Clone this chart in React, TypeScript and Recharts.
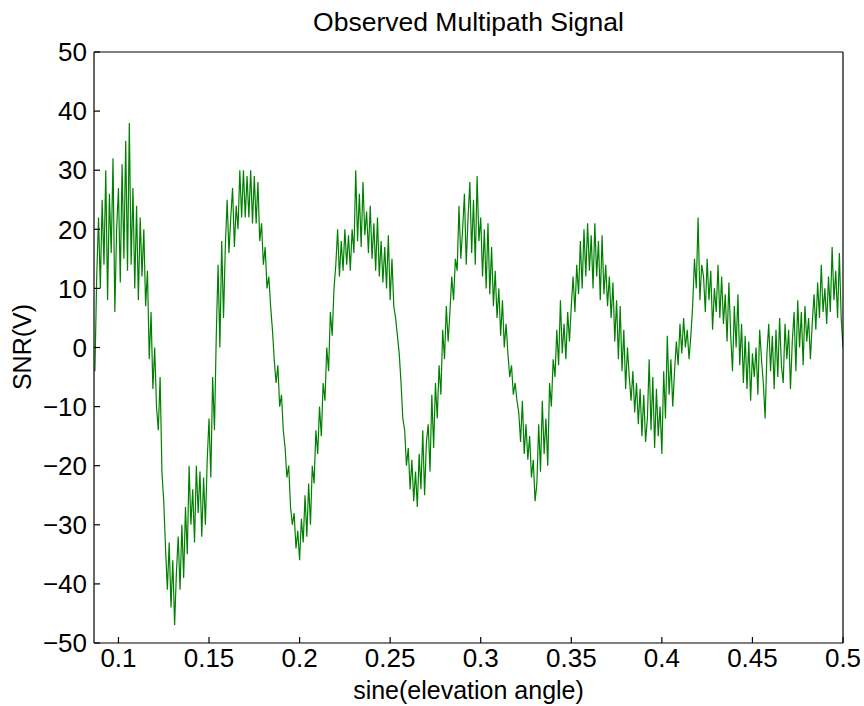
import { LineChart, Line, XAxis, YAxis } from "recharts";

// sample grid of the observed signal (sine of elevation angle)
const SAMPLE_START = 0.087;
const SAMPLE_STEP = 0.001;

// SNR(V) readings, one per sample
const snrValues = [
  -4, 12, 22, 10, 25, 14, 30, 8, 26, 16,
  32, 6, 20, 27, 11, 31, 15, 35, 13, 38,
  14, 27, 10, 24, 8, 22, 12, 20, 7, 13,
  -2, 6, -7, 0, -10, -14, -5, -21, -26, -34,
  -41, -33, -44, -36, -47, -38, -32, -41, -30, -39,
  -27, -35, -20, -30, -24, -33, -20, -28, -21, -32,
  -22, -30, -19, -12, -22, -5, -14, 2, 14, 0,
  18, 5, 17, 25, 16, 22, 27, 17, 24, 20,
  30, 22, 30, 22, 29, 22, 30, 21, 29, 21,
  28, 18, 21, 14, 17, 10, 12, 7, 3, -2,
  -6, -3, -10, -8, -14, -17, -22, -20, -27, -30,
  -28, -34, -31, -36, -29, -33, -25, -32, -23, -30,
  -20, -23, -14, -18, -10, -15, -6, -9, 0, -4,
  6, 2, 10, 14, 20, 12, 18, 13, 20, 14,
  19, 13, 20, 16, 30, 18, 26, 17, 28, 19,
  23, 16, 24, 15, 21, 13, 22, 12, 18, 11,
  17, 10, 19, 8, 15, 7, 5, 2, -1, -6,
  -12, -14, -20, -17, -24, -19, -26, -21, -27, -18,
  -24, -14, -25, -16, -13, -21, -8, -17, -6, -12,
  -3, -8, 3, -2, 7, 1, 6, 12, 8, 15,
  13, 24, 15, 20, 26, 14, 22, 28, 16, 25,
  14, 29, 18, 22, 12, 20, 10, 21, 9, 17,
  7, 13, 5, 10, 2, 8, 0, 4, -1, -5,
  -3, -8, -6, -9, -11, -16, -9, -18, -13, -19,
  -15, -22, -19, -26, -23, -13, -21, -9, -18, -12,
  -20, -6, -10, -2, -5, 3, -3, 8, -1, 4,
  -2, 6, 1, 7, 12, 6, 14, 9, 18, 10,
  20, 12, 21, 13, 19, 10, 21, 12, 18, 8,
  19, 9, 14, 7, 12, 5, 11, 1, 8, -2,
  7, -4, 3, -7, 0, -5, -9, -4, -11, -6,
  -13, -7, -15, -8, -16, -12, -2, -14, -5, -17,
  -7, -15, -10, -18, -4, -12, 2, -8, -2, -10,
  -4, 1, -3, 4, -1, 5, 0, 3, -2, 2,
  7, 15, 10, 22, 8, 14, 12, 6, 15, 8,
  13, 3, 10, 6, 14, 5, 12, 4, 9, 1,
  11, 2, -4, 7, 0, 9, -3, 4, -6, 2,
  -7, 1, -9, -1, -5, 0, -8, 3, -2, -6,
  -12, -1, 4, -4, 2, -7, 3, -5, 5, -3,
  -6, 4, -2, 3, -7, 1, 6, -4, 8, 0,
  6, -3, 7, 1, 5, -2, 4, 9, 3, 11,
  5, 14, 6, 10, 4, 12, 6, 17, 8, 13,
  5, 16, 5, 0,
];

const xTicks = [0.1, 0.15, 0.2, 0.25, 0.3, 0.35, 0.4, 0.45, 0.5];
const yTicks = [-50, -40, -30, -20, -10, 0, 10, 20, 30, 40, 50];

const data = snrValues.map((snr, i) => ({
  x: +(SAMPLE_START + i * SAMPLE_STEP).toFixed(4),
  snr,
}));

const font = "'Liberation Sans', Arial, Helvetica, sans-serif";
const tickStyle = { fontSize: 26, fill: "#000", fontFamily: font };
const axisStroke = { stroke: "#000", strokeWidth: 1.2 };

const fmtY = (v: number) => String(v).replace("-", "\u2212");

export default function App() {
  return (
    <div
      style={{
        position: "absolute",
        left: 0,
        top: 0,
        width: 864,
        height: 706,
        background: "#fff",
        fontFamily: font,
      }}
    >
      <LineChart
        width={864}
        height={706}
        data={data}
        margin={{ top: 0, right: 0, left: 0, bottom: 0 }}
      >
        <XAxis
          dataKey="x"
          type="number"
          domain={[0.0865, 0.5]}
          ticks={xTicks}
          allowDataOverflow
          height={63}
          tickSize={-6}
          tickMargin={12}
          tick={tickStyle}
          axisLine={axisStroke}
          tickLine={axisStroke}
          tickFormatter={(v: number) => String(v)}
        />
        <XAxis
          xAxisId="top"
          orientation="top"
          dataKey="x"
          type="number"
          domain={[0.0865, 0.5]}
          ticks={xTicks}
          allowDataOverflow
          height={52}
          tickSize={-6}
          tick={false}
          axisLine={axisStroke}
          tickLine={axisStroke}
        />
        <YAxis
          type="number"
          domain={[-50, 50]}
          ticks={yTicks}
          width={94}
          tickSize={-6}
          tickMargin={13}
          tick={tickStyle}
          axisLine={axisStroke}
          tickLine={axisStroke}
          tickFormatter={fmtY}
        />
        <YAxis
          yAxisId="right"
          orientation="right"
          type="number"
          domain={[-50, 50]}
          ticks={yTicks}
          width={21}
          tickSize={-6}
          tick={false}
          axisLine={axisStroke}
          tickLine={axisStroke}
        />
        <Line
          dataKey="snr"
          type="linear"
          stroke="#008000"
          strokeWidth={1.2}
          dot={false}
          isAnimationActive={false}
        />
      </LineChart>
      <div
        style={{
          position: "absolute",
          left: 94,
          width: 749,
          top: 6,
          textAlign: "center",
          fontSize: 26.5,
          lineHeight: "32px",
        }}
      >
        Observed Multipath Signal
      </div>
      <div
        style={{
          position: "absolute",
          left: 94,
          width: 749,
          top: 677,
          textAlign: "center",
          fontSize: 25,
          lineHeight: "26px",
        }}
      >
        sine(elevation angle)
      </div>
      <div
        style={{
          position: "absolute",
          left: 22 - 100,
          top: 347 - 16,
          width: 200,
          textAlign: "center",
          fontSize: 25,
          lineHeight: "32px",
          transform: "rotate(-90deg)",
        }}
      >
        SNR(V)
      </div>
    </div>
  );
}
